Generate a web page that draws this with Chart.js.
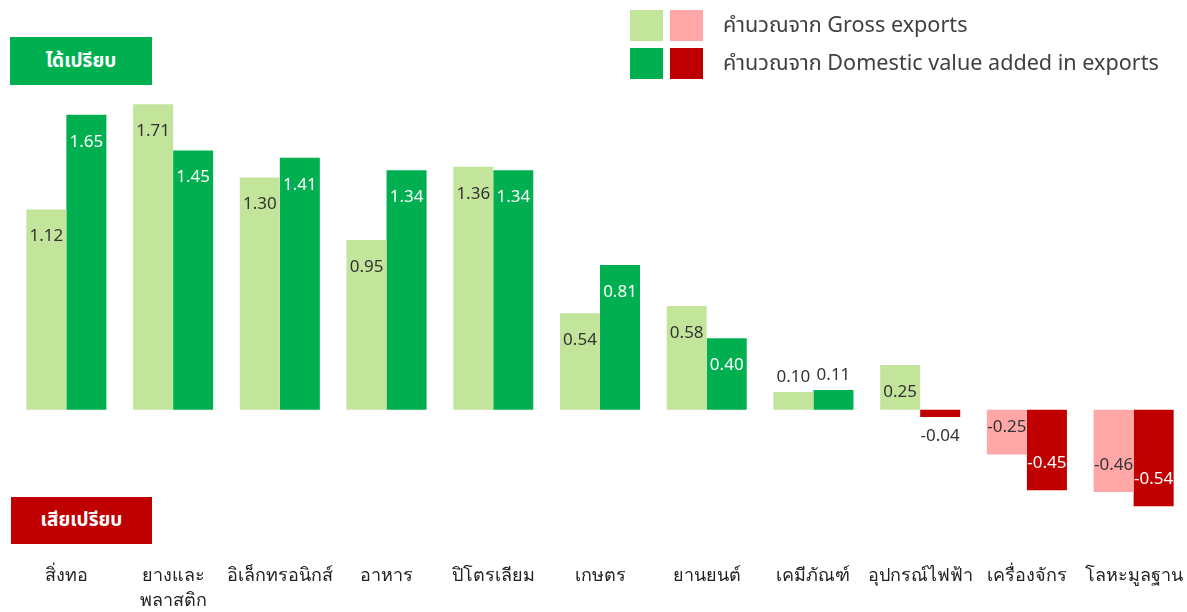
<!DOCTYPE html>
<html>
<head>
<meta charset="utf-8">
<script src="https://cdn.jsdelivr.net/npm/chart.js@4/dist/chart.umd.min.js"></script>
<style>
  body { margin: 0; background: #fff; }
  #wrap { position: relative; width: 1187px; height: 612px; font-family: Tahoma, "Noto Sans Thai", "Noto Sans", sans-serif; }
  #wrap canvas { position: absolute; left: 0; top: 0; }
  .tag { position: absolute; color: #fff; font-weight: bold; font-size: 19px; display: flex; align-items: center; justify-content: center; }
  .legend { position: absolute; left: 630px; font-size: 21.6px; color: #404040; display: flex; align-items: center; height: 31px; }
  .legend span.box { display: inline-block; width: 33px; height: 31px; margin-right: 7px; }
  .legend span.txt { margin-left: 13px; }
</style>
</head>
<body>
<div id="wrap">
  <canvas id="tradeChart" width="1187" height="612"></canvas>
  <div class="tag" style="left:10px;top:37px;width:142px;height:48px;background:#00b050;">ได้เปรียบ</div>
  <div class="tag" style="left:11px;top:497px;width:141px;height:47px;background:#c00000;">เสียเปรียบ</div>
  <div class="legend" style="top:10px;"><span class="box" style="background:#c3e49b"></span><span class="box" style="background:#ffa6a6"></span><span class="txt">คำนวณจาก Gross exports</span></div>
  <div class="legend" style="top:48px;"><span class="box" style="background:#00b050"></span><span class="box" style="background:#c00000"></span><span class="txt">คำนวณจาก Domestic value added in exports</span></div>
</div>
<script>
// categories and values
var categories = [
  "สิ่งทอ", ["ยางและ", "พลาสติก"], "อิเล็กทรอนิกส์", "อาหาร", "ปิโตรเลียม",
  "เกษตร", "ยานยนต์", "เคมีภัณฑ์", "อุปกรณ์ไฟฟ้า", "เครื่องจักร", "โลหะมูลฐาน"
];
var grossValues = [1.12, 1.71, 1.30, 0.95, 1.36, 0.54, 0.58, 0.10, 0.25, -0.25, -0.46];
var dvaValues   = [1.65, 1.45, 1.41, 1.34, 1.34, 0.81, 0.40, 0.11, -0.04, -0.45, -0.54];

function colorsFor(values, pos, neg) {
  return values.map(function (v) { return v >= 0 ? pos : neg; });
}

// value labels, placed like excel's "inside end" (outside when the bar is short)
var barLabels = {
  id: 'barLabels',
  afterDatasetsDraw: function (chart) {
    var ctx = chart.ctx;
    ctx.save();
    ctx.font = '17px Tahoma, "Noto Sans", sans-serif';
    ctx.textAlign = 'center';
    ctx.textBaseline = 'middle';
    chart.data.datasets.forEach(function (ds, i) {
      var meta = chart.getDatasetMeta(i);
      meta.data.forEach(function (bar, j) {
        var v = ds.data[j];
        var h = Math.abs(bar.base - bar.y);
        var y, color;
        if (h >= 40) {
          y = v >= 0 ? bar.y + 27 : bar.y - 27;
          color = i === 0 ? '#333333' : '#ffffff';
        } else {
          y = v >= 0 ? bar.y - 15 : bar.y + 19;
          color = '#333333';
        }
        ctx.fillStyle = color;
        ctx.fillText(v.toFixed(2), bar.x, y);
      });
    });
    ctx.restore();
  }
};

var tradeChart = new Chart(document.getElementById("tradeChart"), {
  type: 'bar',
  data: {
    labels: categories,
    datasets: [{
      label: 'คำนวณจาก Gross exports',
      data: grossValues,
      backgroundColor: colorsFor(grossValues, '#c3e49b', '#ffa6a6')
    }, {
      label: 'คำนวณจาก Domestic value added in exports',
      data: dvaValues,
      backgroundColor: colorsFor(dvaValues, '#00b050', '#c00000')
    }]
  },
  options: {
    responsive: false,
    animation: false,
    layout: { padding: { left: 13, right: 0, top: 97, bottom: 0 } },
    categoryPercentage: 0.75,
    barPercentage: 1.0,
    plugins: {
      legend: { display: false },
      tooltip: { enabled: false }
    },
    scales: {
      y: { display: false, min: -0.6, max: 1.75 },
      x: {
        grid: { display: false, drawTicks: false },
        border: { display: false },
        afterFit: function (scale) {
          scale.height = 95;
          scale.paddingLeft = 0;
          scale.paddingRight = 0;
        },
        ticks: {
          padding: 46,
          maxRotation: 0,
          autoSkip: false,
          color: '#222222',
          font: { size: 18, family: 'Tahoma, "Noto Sans", sans-serif', lineHeight: 1.4 }
        }
      }
    }
  },
  plugins: [barLabels]
});
</script>
</body>
</html>
